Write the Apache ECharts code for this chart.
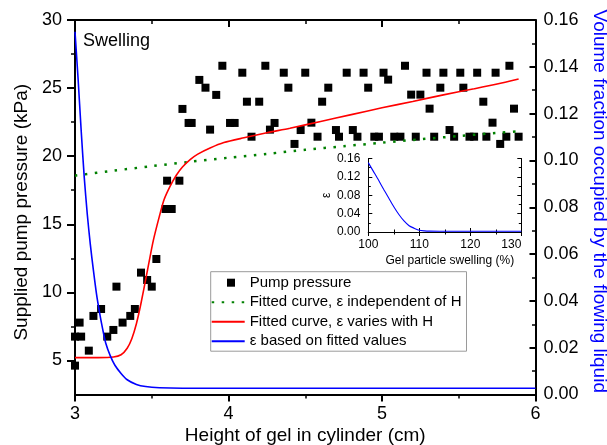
<!DOCTYPE html>
<html>
<head>
<meta charset="utf-8">
<script src="https://cdn.jsdelivr.net/npm/echarts@6/dist/echarts.min.js"></script>
<style>
  html, body { margin: 0; padding: 0; background: #fff; }
  #chart { width: 607px; height: 445px; }
</style>
</head>
<body>
<div id="chart"></div>
<script>
const FONT = '"Liberation Sans", Arial, Helvetica, sans-serif';

// Measured supplied pump pressure (kPa) against gel height (cm)
const pumpHeight = [3.00, 3.00, 3.04, 3.03, 3.09, 3.12, 3.17, 3.21, 3.25, 3.27, 3.31, 3.36, 3.39, 3.43, 3.47, 3.50, 3.53,
  3.59, 3.63, 3.60, 3.68, 3.70, 3.74, 3.76, 3.81, 3.85, 3.88, 3.92, 3.96, 4.01, 4.04, 4.09, 4.12, 4.15, 4.20, 4.24,
  4.27, 4.30, 4.36, 4.39, 4.43, 4.47, 4.50, 4.54, 4.58, 4.61, 4.65, 4.70, 4.72, 4.77, 4.81, 4.84, 4.88, 4.91, 4.95,
  4.98, 5.01, 5.04, 5.08, 5.12, 5.15, 5.19, 5.22, 5.25, 5.29, 5.31, 5.34, 5.38, 5.40, 5.44, 5.47, 5.51, 5.53, 5.57,
  5.60, 5.62, 5.66, 5.68, 5.72, 5.74, 5.77, 5.81, 5.83, 5.86, 5.89];
const pumpPressure = [4.62, 6.75, 6.75, 7.78, 5.72, 8.27, 8.78, 6.75, 7.24, 10.42, 7.78, 8.27, 8.78, 11.45, 10.91, 10.42, 12.45,
  16.12, 16.12, 18.2, 18.2, 23.47, 22.44, 22.44, 25.6, 25.03, 21.95, 24.5, 26.64, 22.44, 22.44, 26.13, 24.0, 21.43, 24.0, 26.64,
  21.95, 22.44, 26.13, 25.03, 20.9, 21.92, 26.13, 22.46, 21.43, 24.0, 25.03, 21.92, 21.43, 26.13, 21.92, 21.43, 26.13, 25.03, 21.43,
  21.43, 26.13, 25.62, 21.43, 21.43, 26.64, 24.52, 21.43, 24.52, 26.13, 23.49, 21.43, 25.03, 26.13, 21.92, 21.43, 26.13, 25.03, 21.43,
  21.43, 26.13, 24.0, 21.43, 22.46, 26.13, 20.9, 21.43, 26.64, 23.49, 21.43];

// Fitted curve with a constant liquid fraction
const fitConstHeight = [3.0, 3.25, 3.5, 3.75, 4.0, 4.25, 4.5, 4.75, 5.0, 5.25, 5.5, 5.75, 5.9];
const fitConstPressure = [18.57, 18.93, 19.27, 19.59, 19.89, 20.17, 20.47, 20.73, 20.99, 21.24, 21.48, 21.71, 21.84];

// Fitted curve with a height-dependent liquid fraction
const fitVaryHeight = [3.0, 3.15, 3.25, 3.3, 3.34, 3.37, 3.40, 3.43, 3.47, 3.51, 3.55, 3.58, 3.62, 3.66, 3.70, 3.75,
  3.80, 3.88, 3.97, 4.1, 4.25, 4.4, 4.6, 4.8, 5.0, 5.2, 5.4, 5.6, 5.75, 5.89];
const fitVaryPressure = [5.21, 5.21, 5.25, 5.42, 5.9, 6.6, 7.7, 9.2, 11.5, 13.8, 15.6, 16.8, 17.8, 18.6, 19.2, 19.75,
  20.15, 20.6, 21.0, 21.35, 21.72, 22.05, 22.55, 23.05, 23.55, 24.02, 24.5, 24.95, 25.3, 25.67];

// Liquid volume fraction from the fitted values (right axis)
const epsHeight = [3.0, 3.02, 3.04, 3.06, 3.08, 3.10, 3.12, 3.14, 3.16, 3.18, 3.2, 3.23, 3.26, 3.3, 3.34, 3.4, 3.46,
  3.55, 3.7, 6.0];
const epsValue = [0.155, 0.135, 0.113, 0.093, 0.077, 0.064, 0.053, 0.043, 0.035, 0.028, 0.022, 0.0165, 0.0125, 0.009,
  0.0063, 0.0043, 0.0034, 0.0029, 0.0027, 0.0027];

// Inset: liquid fraction against gel particle swelling (%)
const insetSwelling = [100, 101, 102, 103, 104, 105, 106, 107, 108, 109, 110, 111, 112, 114, 120, 130];
const insetEps = [0.151, 0.132, 0.113, 0.093, 0.074, 0.055, 0.038, 0.024, 0.0135, 0.0082, 0.0038, 0.0024, 0.0018,
  0.0015, 0.0015, 0.0015];

// Tick positions
const pressureTicks = [5, 10, 15, 20, 25, 30];
const pressureMinorTicks = [7.5, 12.5, 17.5, 22.5, 27.5];

const legendNames = ['Pump pressure', 'Fitted curve, \u03b5 independent of H', 'Fitted curve, \u03b5 varies with H',
  '\u03b5 based on fitted values'];

const zip = (xs, ys) => xs.map((x, i) => [x, ys[i]]);

const black = '#000';
const axisLineStyle = { color: black, width: 2 };
const insetLineStyle = { color: black, width: 1 };
// legend line entries show only the stroke, no marker
const hiddenMarker = { color: 'rgba(0,0,0,0)', borderWidth: 0, opacity: 0 };

const chart = echarts.init(document.getElementById('chart'), null, { renderer: 'canvas' });

chart.setOption({
  animation: false,
  backgroundColor: '#fff',
  textStyle: { fontFamily: FONT },
  title: {
    text: 'Swelling', left: 83, top: 32, padding: 0,
    textStyle: { fontFamily: FONT, fontSize: 18, fontWeight: 'normal', color: black }
  },
  grid: [
    { left: 75, top: 20, width: 460.5, height: 374.5, outerBoundsMode: 'none' },
    { left: 368.3, top: 158.5, width: 153, height: 73.5, outerBoundsMode: 'none' }
  ],
  legend: {
    orient: 'vertical', left: 210.7, top: 271.7,
    padding: [3.5, 5, 2.5, 0],
    itemWidth: 33, itemHeight: 8, itemGap: 4.5,
    borderColor: '#9a9a9a', borderWidth: 1, backgroundColor: '#fff',
    selectedMode: false,
    textStyle: { fontFamily: FONT, fontSize: 15, color: black },
    data: [
      { name: legendNames[0], icon: 'path://M0,0L0,0M33,8L33,8M15.3,0h8v8h-8z', itemStyle: { color: black, opacity: 1 } },
      { name: legendNames[1], itemStyle: hiddenMarker },
      { name: legendNames[2], itemStyle: hiddenMarker },
      { name: legendNames[3], itemStyle: hiddenMarker }
    ]
  },
  xAxis: [
    {
      gridIndex: 0, type: 'value', position: 'bottom', min: 3, max: 6, interval: 1,
      name: 'Height of gel in cylinder (cm)', nameLocation: 'middle', nameGap: 32, nameMoveOverlap: false,
      nameTextStyle: { fontFamily: FONT, fontSize: 19, color: black },
      axisLine: { lineStyle: axisLineStyle },
      axisTick: { inside: false, length: 7, lineStyle: { color: black, width: 2 } },
      minorTick: { show: true, splitNumber: 2, length: 4, lineStyle: { color: black, width: 1.5 } },
      axisLabel: { fontFamily: FONT, fontSize: 18, color: black, margin: 11 },
      splitLine: { show: false }
    },
    {
      gridIndex: 0, type: 'value', position: 'top', min: 3, max: 6, interval: 1,
      axisLine: { lineStyle: axisLineStyle },
      axisTick: { inside: true, length: 7, lineStyle: { color: black, width: 2 } },
      minorTick: { show: true, splitNumber: 2, length: 4, lineStyle: { color: black, width: 1.5 } },
      axisLabel: { show: false },
      splitLine: { show: false }
    },
    {
      gridIndex: 1, type: 'value', position: 'bottom', min: 100, max: 130, interval: 10,
      name: 'Gel particle swelling (%)', nameLocation: 'middle', nameGap: 23,
      nameTextStyle: { fontFamily: FONT, fontSize: 12, color: black, padding: [0, 0, 0, 10] },
      axisLine: { lineStyle: insetLineStyle },
      axisTick: { inside: true, length: 4, lineStyle: { color: black, width: 1 } },
      minorTick: { show: true, splitNumber: 2, length: 2.5, lineStyle: { color: black, width: 1 } },
      axisLabel: { fontFamily: FONT, fontSize: 12, color: black, margin: 7, alignMaxLabel: 'right' },
      splitLine: { show: false }
    },
    {
      gridIndex: 1, type: 'value', position: 'top', min: 100, max: 130, interval: 10,
      axisLine: { lineStyle: insetLineStyle },
      axisTick: { inside: true, length: 4, lineStyle: { color: black, width: 1 } },
      minorTick: { show: true, splitNumber: 2, length: 2.5, lineStyle: { color: black, width: 1 } },
      axisLabel: { show: false },
      splitLine: { show: false }
    }
  ],
  yAxis: [
    {
      gridIndex: 0, type: 'value', position: 'left', min: 2.5, max: 30,
      name: 'Supplied pump pressure (kPa)', nameLocation: 'middle', nameGap: 41,
      nameTextStyle: { fontFamily: FONT, fontSize: 19, color: black, padding: [0, 10, 0, 0] },
      axisLine: { lineStyle: axisLineStyle },
      axisTick: { inside: false, length: 8, customValues: pressureTicks, lineStyle: { color: black, width: 2 } },
      axisLabel: { fontFamily: FONT, fontSize: 18, color: black, margin: 13, customValues: pressureTicks },
      splitLine: { show: false }
    },
    {
      gridIndex: 0, type: 'value', position: 'right', min: 0, max: 0.16, interval: 0.02,
      name: 'Volume fraction occupied by the flowing liquid', nameLocation: 'middle', nameGap: 52, nameRotate: -90,
      nameTextStyle: { fontFamily: FONT, fontSize: 19, color: '#0000ff', padding: [0, 12, 0, 0] },
      axisLine: { lineStyle: axisLineStyle },
      axisTick: { inside: true, length: 6, lineStyle: { color: black, width: 2 } },
      minorTick: { show: true, splitNumber: 2, length: 3.5, lineStyle: { color: black, width: 1.5 } },
      axisLabel: { fontFamily: FONT, fontSize: 18, color: black, margin: 8, formatter: v => v.toFixed(2) },
      splitLine: { show: false }
    },
    {
      // minor ticks of the pressure axis
      gridIndex: 0, type: 'value', position: 'left', min: 2.5, max: 30,
      axisLine: { show: false },
      axisTick: { inside: false, length: 4, customValues: pressureMinorTicks, lineStyle: { color: black, width: 1.5 } },
      axisLabel: { show: false },
      splitLine: { show: false }
    },
    {
      gridIndex: 1, type: 'value', position: 'left', min: 0, max: 0.16, interval: 0.04,
      name: '\u03b5', nameLocation: 'middle', nameGap: 33,
      nameTextStyle: { fontFamily: FONT, fontSize: 12, color: black },
      axisLine: { lineStyle: insetLineStyle },
      axisTick: { inside: true, length: 4, lineStyle: { color: black, width: 1 } },
      minorTick: { show: true, splitNumber: 2, length: 2.5, lineStyle: { color: black, width: 1 } },
      axisLabel: { fontFamily: FONT, fontSize: 12, color: black, margin: 8, formatter: v => v.toFixed(2) },
      splitLine: { show: false }
    },
    {
      gridIndex: 1, type: 'value', position: 'right', min: 0, max: 0.16, interval: 0.04,
      axisLine: { lineStyle: insetLineStyle },
      axisTick: { inside: true, length: 4, lineStyle: { color: black, width: 1 } },
      minorTick: { show: true, splitNumber: 2, length: 2.5, lineStyle: { color: black, width: 1 } },
      axisLabel: { show: false },
      splitLine: { show: false }
    }
  ],
  series: [
    {
      name: legendNames[0], type: 'scatter', xAxisIndex: 0, yAxisIndex: 0,
      symbol: 'rect', symbolSize: 8, itemStyle: { color: black, opacity: 1 },
      emphasis: { disabled: true },
      data: zip(pumpHeight, pumpPressure), z: 2
    },
    {
      name: legendNames[1], type: 'line', xAxisIndex: 0, yAxisIndex: 0,
      showSymbol: false, symbol: 'none', smooth: 0.3,
      lineStyle: { color: '#008000', width: 2.5, type: [2.5, 7.5] },
      itemStyle: { color: '#008000' },
      data: zip(fitConstHeight, fitConstPressure), z: 3
    },
    {
      name: legendNames[2], type: 'line', xAxisIndex: 0, yAxisIndex: 0,
      showSymbol: false, symbol: 'none', smooth: 0.25,
      lineStyle: { color: '#ff0000', width: 1.6 },
      itemStyle: { color: '#ff0000' },
      data: zip(fitVaryHeight, fitVaryPressure), z: 3
    },
    {
      name: legendNames[3], type: 'line', xAxisIndex: 0, yAxisIndex: 1,
      showSymbol: false, symbol: 'none', smooth: 0.25,
      lineStyle: { color: '#0000ff', width: 1.6 },
      itemStyle: { color: '#0000ff' },
      data: zip(epsHeight, epsValue), z: 3
    },
    {
      name: 'inset', type: 'line', xAxisIndex: 2, yAxisIndex: 3,
      showSymbol: false, symbol: 'none', smooth: 0.25,
      lineStyle: { color: '#0000ff', width: 1.1 },
      itemStyle: { color: '#0000ff' },
      data: zip(insetSwelling, insetEps), z: 3
    }
  ]
});
</script>
</body>
</html>
